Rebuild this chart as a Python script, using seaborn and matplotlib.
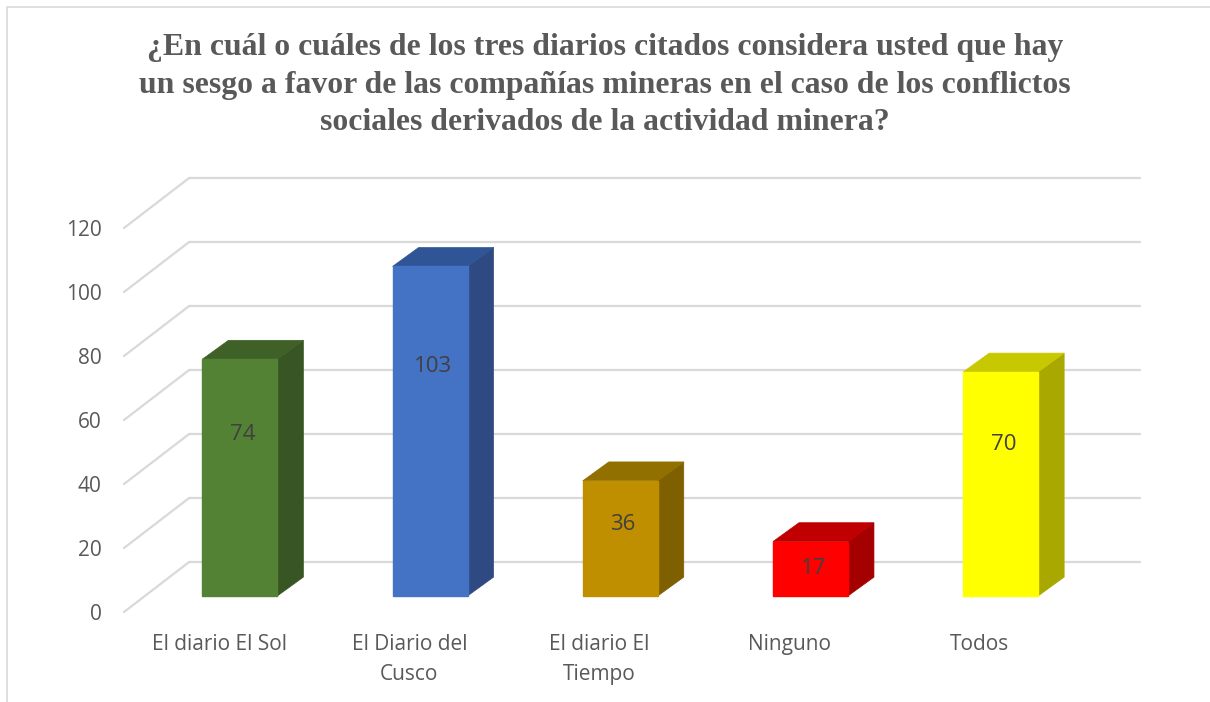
import matplotlib
matplotlib.use("Agg")
import matplotlib.pyplot as plt
from matplotlib.patches import Polygon, Rectangle
import seaborn as sns

# data
categories = ["El diario El Sol", "El Diario del\nCusco", "El diario El\nTiempo", "Ninguno", "Todos"]
values = [74, 103, 36, 17, 70]
yticks = [0, 20, 40, 60, 80, 100, 120]

front_colors = ["#548235", "#4472C4", "#BF8F00", "#FF0000", "#FFFF00"]
side_colors = ["#375623", "#2F4A82", "#7F6000", "#A50000", "#A8A800"]
top_colors = ["#3F6128", "#2F5597", "#917000", "#C00000", "#C8C800"]

title = ("¿En cuál o cuáles de los tres diarios citados considera usted que hay\n"
         "un sesgo a favor de las compañías mineras en el caso de los conflictos\n"
         "sociales derivados de la actividad minera?")

# 3D look: depth of the floor / back wall and of the bars (data units)
WALL_DX, WALL_DY = 0.342, 15.6
BAR_FX, BAR_FY = 0.109, 5.0
BAR_DX, BAR_DY = 0.137, 5.9
GRID = "#D9D9D9"
TEXT = "#595959"

sns.set_theme(style="white")
plt.rcParams["font.family"] = ["Open Sans", "DejaVu Sans"]

fig = plt.figure(figsize=(12.1, 7.02), dpi=100)
ax = fig.add_axes([124 / 1210, 90 / 702, 951 / 1210, 384 / 702])

# back wall and side wall lines
for v in yticks:
    ax.plot([-0.5, -0.5 + WALL_DX], [v, v + WALL_DY], color=GRID, lw=1.6,
            clip_on=False, zorder=0)
    ax.plot([-0.5 + WALL_DX, 4.5 + WALL_DX], [v + WALL_DY, v + WALL_DY],
            color=GRID, lw=1.6, clip_on=False, zorder=0)

sns.barplot(x=categories, y=values, hue=categories, palette=front_colors,
            legend=False, width=0.394, saturation=1, ax=ax, zorder=3)

for i, patch in enumerate(ax.patches):
    w = patch.get_width()
    h = patch.get_height()
    x0 = patch.get_x() + BAR_FX
    y0 = BAR_FY
    patch.set_x(x0)
    patch.set_y(y0)
    patch.set_edgecolor(front_colors[i])
    patch.set_clip_on(False)
    side = Polygon([(x0 + w, y0), (x0 + w + BAR_DX, y0 + BAR_DY),
                    (x0 + w + BAR_DX, y0 + BAR_DY + h), (x0 + w, y0 + h)],
                   closed=True, facecolor=side_colors[i], edgecolor=side_colors[i],
                   lw=0.5, clip_on=False, zorder=2)
    top = Polygon([(x0, y0 + h), (x0 + BAR_DX, y0 + h + BAR_DY),
                   (x0 + w + BAR_DX, y0 + h + BAR_DY), (x0 + w, y0 + h)],
                  closed=True, facecolor=top_colors[i], edgecolor=top_colors[i],
                  lw=0.5, clip_on=False, zorder=2)
    ax.add_patch(side)
    ax.add_patch(top)
    ax.text(x0 + w / 2 + 0.015, 1 + 0.735 * h, str(values[i]), ha="center",
            va="center", fontsize=16, color="#404040", zorder=5)

ax.set_xlim(-0.5, 4.5)
ax.set_ylim(0, 120)
ax.set_yticks(yticks)
ax.set_yticklabels([str(t) for t in yticks])
ax.tick_params(axis="y", length=0, pad=16, labelsize=15, labelcolor=TEXT)
ax.tick_params(axis="x", length=0, pad=16, labelsize=15, labelcolor=TEXT)
for lbl in ax.get_xticklabels():
    lbl.set_linespacing(1.57)
ax.set_xlabel("")
ax.set_ylabel("")
sns.despine(ax=ax, left=True, bottom=True)
ax.patch.set_alpha(0)

fig.text(0.5, 1 - 85 / 702, title, ha="center", va="center", fontsize=22.9,
         fontweight="bold", family="Liberation Serif", color=TEXT, linespacing=1.39)

# chart area border
fig.patches.append(Rectangle((7 / 1210, -0.1), 1.2, 1.1 - 6.5 / 702,
                             transform=fig.transFigure, fill=False,
                             edgecolor=GRID, lw=1.2))

fig.savefig("out.png", dpi=100)
